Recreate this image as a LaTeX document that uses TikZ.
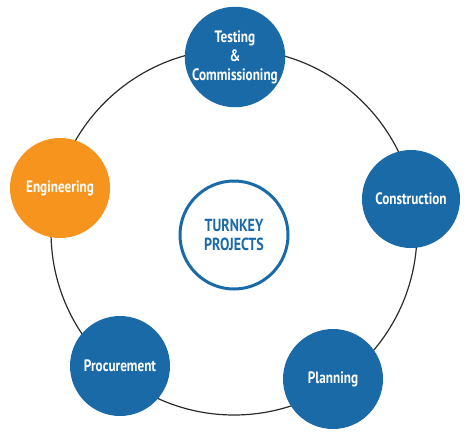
\documentclass[tikz,border=0pt]{standalone}
\usepackage{fontspec}
\setmainfont{PT Sans}[FakeStretch=0.8]
\definecolor{tblue}{HTML}{1A6AA8}
\definecolor{torange}{HTML}{F7941E}
\definecolor{ringgray}{HTML}{2B2B2B}
\begin{document}
\begin{tikzpicture}[x=1pt,y=-1pt,
  stage/.style={circle, minimum size=100pt, inner sep=0pt, text=white,
    font=\bfseries\fontsize{16.5}{19}\selectfont, align=center},
  hub/.style={circle, draw=tblue, line width=3pt, minimum size=108pt, inner sep=0pt,
    text=tblue, font=\bfseries\fontsize{17.5}{18.5}\selectfont, align=center, fill=white},
  ringstyle/.style={circle, draw=ringgray, line width=1.2pt, minimum size=366pt, inner sep=0pt}]
\useasboundingbox (0,0) rectangle (474,434);
\node[ringstyle] (ring) at (234,232) {};
\node[stage, fill=tblue] (test) at (235,57) {Testing\\\&\\Commissioning};
\node[stage, fill=tblue, minimum size=98pt] (cons) at (411,199) {Construction};
\node[stage, fill=tblue] (plan) at (333,379) {Planning};
\node[stage, fill=tblue] (proc) at (120,366) {Procurement};
\node[stage, fill=torange] (eng) at (60,188) {Engineering};
\node[hub] (hubnode) at (234,235) {TURNKEY\\PROJECTS};
\end{tikzpicture}
\end{document}
